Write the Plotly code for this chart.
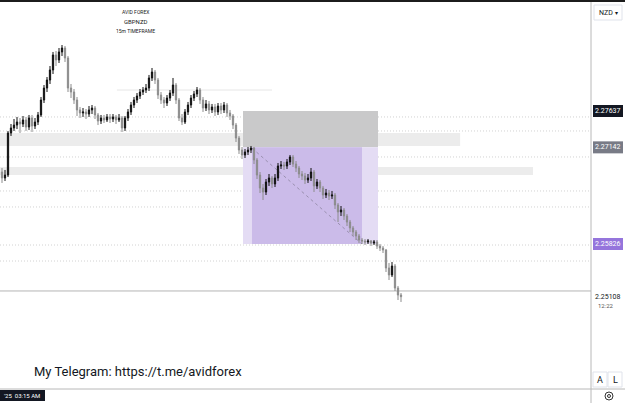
import plotly.graph_objects as go

# ---------------- DATA (GBPNZD 15m) ----------------
bar_index = list(range(134))

opens = [
    2.26806, 2.26725, 2.26765, 2.27338, 2.27406, 2.27446, 2.27487, 2.27460, 2.27515, 2.27419,
    2.27542, 2.27433, 2.27487, 2.27583, 2.27787, 2.27950, 2.28059, 2.28196, 2.28400, 2.28332,
    2.28441, 2.28495, 2.28359, 2.27950, 2.27896, 2.27787, 2.27651, 2.27610, 2.27624, 2.27596,
    2.27651, 2.27678, 2.27583, 2.27501, 2.27542, 2.27515, 2.27556, 2.27528, 2.27556, 2.27515,
    2.27542, 2.27406, 2.27542, 2.27624, 2.27719, 2.27787, 2.27841, 2.27896, 2.27923, 2.27950,
    2.28087, 2.28168, 2.28059, 2.27855, 2.27787, 2.27746, 2.27814, 2.27882, 2.27991, 2.27787,
    2.27542, 2.27487, 2.27624, 2.27719, 2.27814, 2.27869, 2.27923, 2.27787, 2.27678, 2.27733,
    2.27651, 2.27692, 2.27624, 2.27705, 2.27651, 2.27719, 2.27610, 2.27569, 2.27446, 2.27269,
    2.27106, 2.27038, 2.27079, 2.27106, 2.27133, 2.26970, 2.26765, 2.26588, 2.26534, 2.26670,
    2.26725, 2.26643, 2.26725, 2.26888, 2.26902, 2.26888, 2.26943, 2.27011, 2.26915, 2.26861,
    2.26779, 2.26752, 2.26697, 2.26725, 2.26806, 2.26616, 2.26670, 2.26588, 2.26493, 2.26520,
    2.26479, 2.26493, 2.26357, 2.26262, 2.26289, 2.26207, 2.26125, 2.26044, 2.25989, 2.25935,
    2.25880, 2.25867, 2.25853, 2.25867, 2.25839, 2.25853, 2.25798, 2.25771, 2.25744, 2.25499,
    2.25404, 2.25526, 2.25226, 2.25131,
]
highs = [
    2.26861, 2.26834, 2.27365, 2.27460, 2.27528, 2.27556, 2.27542, 2.27569, 2.27556, 2.27583,
    2.27583, 2.27542, 2.27624, 2.27828, 2.27991, 2.28100, 2.28250, 2.28441, 2.28454, 2.28495,
    2.28536, 2.28522, 2.28386, 2.28005, 2.27937, 2.27828, 2.27692, 2.27678, 2.27664, 2.27705,
    2.27719, 2.27705, 2.27610, 2.27583, 2.27583, 2.27596, 2.27596, 2.27596, 2.27583, 2.27596,
    2.27569, 2.27569, 2.27664, 2.27760, 2.27828, 2.27882, 2.27937, 2.27964, 2.28005, 2.28128,
    2.28223, 2.28196, 2.28087, 2.27896, 2.27828, 2.27855, 2.27923, 2.28087, 2.28019, 2.27814,
    2.27596, 2.27664, 2.27760, 2.27855, 2.27910, 2.27964, 2.27950, 2.27828, 2.27787, 2.27773,
    2.27733, 2.27733, 2.27746, 2.27746, 2.27760, 2.27746, 2.27651, 2.27596, 2.27474, 2.27297,
    2.27147, 2.27120, 2.27147, 2.27161, 2.27147, 2.26997, 2.26806, 2.26643, 2.26711, 2.26779,
    2.26752, 2.26779, 2.26929, 2.26956, 2.26943, 2.26983, 2.27038, 2.27038, 2.26956, 2.26888,
    2.26820, 2.26793, 2.26779, 2.26861, 2.26834, 2.26711, 2.26697, 2.26616, 2.26575, 2.26561,
    2.26548, 2.26520, 2.26384, 2.26343, 2.26316, 2.26234, 2.26153, 2.26071, 2.26016, 2.25962,
    2.25907, 2.25894, 2.25894, 2.25880, 2.25880, 2.25880, 2.25826, 2.25798, 2.25758, 2.25567,
    2.25581, 2.25553, 2.25254, 2.25158,
]
lows = [
    2.26657, 2.26684, 2.26738, 2.27297, 2.27365, 2.27392, 2.27338, 2.27419, 2.27365, 2.27378,
    2.27351, 2.27392, 2.27446, 2.27556, 2.27746, 2.27896, 2.28005, 2.28141, 2.28250, 2.28291,
    2.28386, 2.28305, 2.27896, 2.27814, 2.27733, 2.27569, 2.27542, 2.27556, 2.27528, 2.27556,
    2.27596, 2.27528, 2.27446, 2.27460, 2.27474, 2.27487, 2.27474, 2.27487, 2.27460, 2.27487,
    2.27351, 2.27365, 2.27501, 2.27583, 2.27678, 2.27746, 2.27801, 2.27855, 2.27882, 2.27910,
    2.28046, 2.28005, 2.27801, 2.27733, 2.27678, 2.27705, 2.27773, 2.27841, 2.27733, 2.27501,
    2.27446, 2.27460, 2.27583, 2.27678, 2.27773, 2.27828, 2.27733, 2.27624, 2.27637, 2.27596,
    2.27610, 2.27569, 2.27583, 2.27596, 2.27610, 2.27556, 2.27515, 2.27392, 2.27215, 2.27052,
    2.26983, 2.26997, 2.27038, 2.27065, 2.26915, 2.26711, 2.26520, 2.26425, 2.26493, 2.26616,
    2.26588, 2.26602, 2.26684, 2.26847, 2.26834, 2.26847, 2.26902, 2.26875, 2.26806, 2.26725,
    2.26697, 2.26643, 2.26657, 2.26684, 2.26534, 2.26575, 2.26534, 2.26439, 2.26452, 2.26425,
    2.26439, 2.26302, 2.26125, 2.26207, 2.26153, 2.26071, 2.25989, 2.25935, 2.25880, 2.25839,
    2.25826, 2.25812, 2.25826, 2.25798, 2.25812, 2.25758, 2.25730, 2.25703, 2.25444, 2.25335,
    2.25376, 2.25186, 2.25063, 2.25036,
]
closes = [
    2.26725, 2.26765, 2.27338, 2.27406, 2.27446, 2.27487, 2.27460, 2.27515, 2.27419, 2.27542,
    2.27433, 2.27487, 2.27583, 2.27787, 2.27950, 2.28059, 2.28196, 2.28400, 2.28332, 2.28441,
    2.28495, 2.28359, 2.27950, 2.27896, 2.27787, 2.27651, 2.27610, 2.27624, 2.27596, 2.27651,
    2.27678, 2.27583, 2.27501, 2.27542, 2.27515, 2.27556, 2.27528, 2.27556, 2.27515, 2.27542,
    2.27406, 2.27542, 2.27624, 2.27719, 2.27787, 2.27841, 2.27896, 2.27923, 2.27950, 2.28087,
    2.28168, 2.28059, 2.27855, 2.27787, 2.27746, 2.27814, 2.27882, 2.27991, 2.27787, 2.27542,
    2.27487, 2.27624, 2.27719, 2.27814, 2.27869, 2.27923, 2.27787, 2.27678, 2.27733, 2.27651,
    2.27692, 2.27624, 2.27705, 2.27651, 2.27719, 2.27610, 2.27569, 2.27446, 2.27269, 2.27106,
    2.27038, 2.27079, 2.27106, 2.27133, 2.26970, 2.26765, 2.26588, 2.26534, 2.26670, 2.26725,
    2.26643, 2.26725, 2.26888, 2.26902, 2.26888, 2.26943, 2.27011, 2.26915, 2.26861, 2.26779,
    2.26752, 2.26697, 2.26725, 2.26806, 2.26616, 2.26670, 2.26588, 2.26493, 2.26520, 2.26479,
    2.26493, 2.26357, 2.26262, 2.26289, 2.26207, 2.26125, 2.26044, 2.25989, 2.25935, 2.25880,
    2.25867, 2.25853, 2.25867, 2.25839, 2.25853, 2.25798, 2.25771, 2.25744, 2.25499, 2.25404,
    2.25526, 2.25226, 2.25131, 2.25108,
]

# price levels drawn on the chart
zone_top = 2.27637
zone_mid = 2.27142
zone_bottom = 2.25826
last_price = 2.25108
band_upper = (2.27338, 2.27161)
band_lower = (2.26875, 2.26765)
dotted_levels = [2.27556, 2.27365, 2.27011, 2.26548, 2.26330, 2.25812, 2.25594]
solid_level = 2.25186
short_level = 2.27923
price_labels = ["2.27637", "2.27142", "2.25826", "2.25108"]
countdown = "12:22"
title_lines = ["AVID FOREX", "GBPNZD", "15m TIMEFRAME"]
telegram = "My Telegram: https://t.me/avidforex"
time_label = "'25  03:15 AM"
currency = "NZD"

# ---------------- FIGURE ----------------
W, H = 625, 403
AX_X = 591  # price-scale border (px)
FONT = "Roboto, Liberation Sans, sans-serif"


def pxx(x):
    return x / W


def pxy(y):
    return 1 - y / H


fig = go.Figure()
fig.add_trace(go.Candlestick(
    x=bar_index, open=opens, high=highs, low=lows, close=closes,
    increasing=dict(line=dict(color="#101010", width=1), fillcolor="#101010"),
    decreasing=dict(line=dict(color="#8c8c8c", width=1), fillcolor="#8c8c8c"),
    whiskerwidth=0, hoverinfo="skip", showlegend=False,
))

shapes = []
# horizontal bands
shapes.append(dict(type="rect", xref="x", yref="y", x0=-0.7, x1=152.7,
                   y0=band_upper[1], y1=band_upper[0], fillcolor="#ececec",
                   line=dict(width=0), layer="below"))
shapes.append(dict(type="rect", xref="x", yref="y", x0=-0.7, x1=177.0,
                   y0=band_lower[1], y1=band_lower[0], fillcolor="#ececec",
                   line=dict(width=0), layer="below"))
# dotted levels
for lv in dotted_levels:
    shapes.append(dict(type="line", xref="paper", yref="y", x0=0, x1=pxx(AX_X),
                       y0=lv, y1=lv, line=dict(color="#d2d2d2", width=1, dash="1px,2px"),
                       layer="below"))
shapes.append(dict(type="line", xref="paper", yref="y", x0=0, x1=pxx(AX_X),
                   y0=solid_level, y1=solid_level,
                   line=dict(color="#b4b4b4", width=1), layer="below"))
shapes.append(dict(type="line", xref="x", yref="y", x0=38.3, x1=90.0,
                   y0=short_level, y1=short_level,
                   line=dict(color="#e6e6e6", width=1), layer="below"))
# zones
shapes.append(dict(type="rect", xref="x", yref="y", x0=80.33, x1=125.33,
                   y0=zone_mid, y1=zone_top, fillcolor="#c9c9ca",
                   line=dict(width=0), layer="below"))
shapes.append(dict(type="rect", xref="x", yref="y", x0=80.33, x1=125.33,
                   y0=zone_bottom, y1=zone_mid, fillcolor="#e4dcf4",
                   line=dict(width=0), layer="below"))
shapes.append(dict(type="rect", xref="x", yref="y", x0=83.33, x1=120.0,
                   y0=zone_bottom, y1=zone_mid, fillcolor="#cbbbe9",
                   line=dict(width=0), layer="below"))
# diagonal dashed line
shapes.append(dict(type="line", xref="x", yref="y", x0=83.33, x1=120.0,
                   y0=closes[83] - 0.00002, y1=zone_bottom,
                   line=dict(color="#9a90b0", width=1, dash="3px,3px"), layer="below"))
# frame lines
shapes.append(dict(type="rect", xref="paper", yref="paper", x0=0, x1=1,
                   y0=pxy(2), y1=1, fillcolor="#1c1c1c", line=dict(width=0)))
shapes.append(dict(type="line", xref="paper", yref="paper", x0=pxx(AX_X), x1=pxx(AX_X),
                   y0=0, y1=pxy(2), line=dict(color="#b8b8b8", width=1)))
shapes.append(dict(type="line", xref="paper", yref="paper", x0=0, x1=1,
                   y0=pxy(389), y1=pxy(389), line=dict(color="#b8b8b8", width=1)))

# price label boxes
label_specs = [
    (zone_top, "#131722", "white"),
    (zone_mid, "#787b86", "white"),
    (zone_bottom, "#9575dc", "white"),
]
annotations = []
for (lv, bg, fg), txt in zip(label_specs, price_labels[:3]):
    shapes.append(dict(type="rect", xref="paper", yref="y", x0=pxx(593), x1=pxx(623),
                       ysizemode="pixel", yanchor=lv, y0=-6, y1=6,
                       fillcolor=bg, line=dict(width=0)))
    annotations.append(dict(xref="paper", yref="y", x=pxx(608), y=lv, text=txt,
                            showarrow=False, font=dict(family=FONT, size=7, color=fg),
                            xanchor="center", yanchor="middle"))
annotations.append(dict(xref="paper", yref="y", x=pxx(608), y=last_price, text=price_labels[3],
                        showarrow=False, font=dict(family=FONT, size=7, color="#131722"),
                        xanchor="center", yanchor="middle"))
annotations.append(dict(xref="paper", yref="paper", x=pxx(606), y=pxy(305), text=countdown,
                        showarrow=False, font=dict(family=FONT, size=6, color="#555"),
                        xanchor="center", yanchor="middle"))

# NZD selector
shapes.append(dict(type="rect", xref="paper", yref="paper", x0=pxx(594), x1=pxx(622),
                   y0=pxy(20), y1=pxy(5), fillcolor="white",
                   line=dict(color="#e0e3eb", width=1)))
annotations.append(dict(xref="paper", yref="paper", x=pxx(608), y=pxy(12.5),
                        text=currency + " <span style='font-size:6px'>▾</span>",
                        showarrow=False, font=dict(family=FONT, size=7, color="#131722"),
                        xanchor="center", yanchor="middle"))
# A / L buttons
for cx, t in [(600, "A"), (615, "L")]:
    shapes.append(dict(type="rect", xref="paper", yref="paper", x0=pxx(cx - 7), x1=pxx(cx + 7),
                       y0=pxy(387), y1=pxy(372), fillcolor="white",
                       line=dict(color="#e0e3eb", width=1)))
    annotations.append(dict(xref="paper", yref="paper", x=pxx(cx), y=pxy(379.5), text=t,
                            showarrow=False, font=dict(family=FONT, size=9, color="#131722"),
                            xanchor="center", yanchor="middle"))
# gear icon
shapes.append(dict(type="circle", xref="paper", yref="paper", x0=pxx(605), x1=pxx(613),
                   y0=pxy(400), y1=pxy(392), line=dict(color="#333", width=1)))
shapes.append(dict(type="circle", xref="paper", yref="paper", x0=pxx(607.5), x1=pxx(610.5),
                   y0=pxy(397.5), y1=pxy(394.5), line=dict(color="#333", width=1)))

# time label
shapes.append(dict(type="rect", xref="paper", yref="paper", x0=0, x1=pxx(45),
                   y0=pxy(401), y1=pxy(390), fillcolor="#131722", line=dict(width=0)))
annotations.append(dict(xref="paper", yref="paper", x=pxx(22), y=pxy(395.5), text=time_label,
                        showarrow=False, font=dict(family=FONT, size=6, color="white"),
                        xanchor="center", yanchor="middle"))

# titles
for t, yy, sz in zip(title_lines, [12, 22, 31], [5, 6, 5]):
    annotations.append(dict(xref="paper", yref="paper", x=pxx(135), y=pxy(yy), text=t,
                            showarrow=False, font=dict(family=FONT, size=sz, color="#222"),
                            xanchor="center", yanchor="middle"))
# telegram
annotations.append(dict(xref="paper", yref="paper", x=pxx(32), y=pxy(371), text=telegram,
                        showarrow=False, font=dict(family=FONT, size=13, color="#131722"),
                        xanchor="left", yanchor="middle"))

fig.update_layout(
    width=W, height=H, margin=dict(l=0, r=0, t=0, b=0),
    paper_bgcolor="white", plot_bgcolor="white",
    boxgap=0.4,
    shapes=shapes, annotations=annotations,
    xaxis=dict(range=[-2 / 3, 623 / 3], visible=False, showgrid=False, zeroline=False,
               rangeslider=dict(visible=False), fixedrange=True),
    yaxis=dict(range=[2.236601, 2.29149], visible=False, showgrid=False, zeroline=False,
               fixedrange=True),
    showlegend=False,
)

fig.write_html("out.html", config={"displayModeBar": False})
